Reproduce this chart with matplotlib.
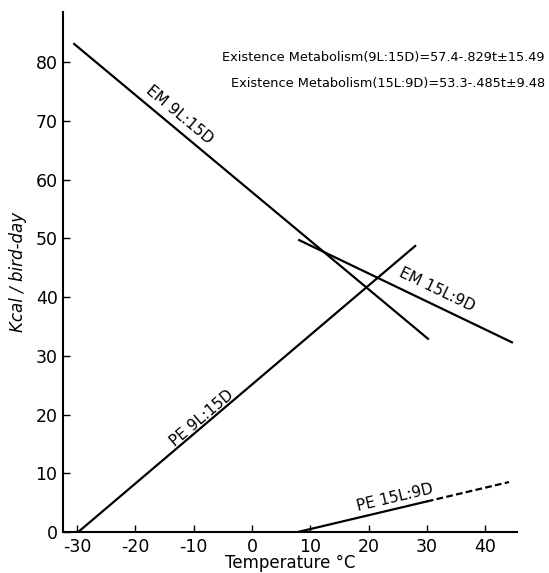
import matplotlib
matplotlib.use("Agg")
import matplotlib.pyplot as plt
import numpy as np

plt.rcParams['font.family'] = ['DejaVu Sans']
plt.rcParams['axes.unicode_minus'] = False

# Data (temperature °C, kcal/bird-day)
em_9l_x = [-30.5, 30.2]
em_9l_y = [83.1, 32.9]
em_15l_x = [8.1, 44.6]
em_15l_y = [49.7, 32.3]
pe_9l_x = [-29.8, 28.0]
pe_9l_y = [0.0, 48.7]
pe_15l_solid_x = [7.9, 30.0]
pe_15l_solid_y = [0.0, 5.2]
pe_15l_dash_x = [30.0, 44.1]
pe_15l_dash_y = [5.2, 8.5]

x_ticks = [-30, -20, -10, 0, 10, 20, 30, 40]
y_ticks = [0, 10, 20, 30, 40, 50, 60, 70, 80]

labels = [
    ("EM 9L:15D", em_9l_x, em_9l_y, -12.5, 71.0),
    ("EM 15L:9D", em_15l_x, em_15l_y, 31.7, 41.2),
    ("PE 9L:15D", pe_9l_x, pe_9l_y, -8.6, 19.3),
    ("PE 15L:9D", pe_15l_solid_x + pe_15l_dash_x[1:], pe_15l_solid_y + pe_15l_dash_y[1:], 24.5, 5.8),
]

eq1 = "Existence Metabolism(9L:15D)=57.4-.829t\u00b115.49"
eq2 = "Existence Metabolism(15L:9D)=53.3-.485t\u00b19.48"

fig = plt.figure(figsize=(5.49, 5.73), dpi=100)
ax = fig.add_axes([0.115, 0.0716, 0.827, 0.907])

lw = 1.6
ax.plot(em_9l_x, em_9l_y, color='black', lw=lw)
ax.plot(em_15l_x, em_15l_y, color='black', lw=lw)
ax.plot(pe_9l_x, pe_9l_y, color='black', lw=lw)
ax.plot(pe_15l_solid_x, pe_15l_solid_y, color='black', lw=lw)
ax.plot(pe_15l_dash_x, pe_15l_dash_y, color='black', lw=lw, ls=(0, (3, 1.5)))

ax.set_xlim(-32.4, 45.5)
ax.set_ylim(0, 88.5)
ax.set_xticks(x_ticks)
ax.set_yticks(y_ticks)
ax.tick_params(direction='in', length=5, width=1, labelsize=12.5, pad=4, colors='black')
for s in ['top', 'right']:
    ax.spines[s].set_visible(False)
for s in ['left', 'bottom']:
    ax.spines[s].set_linewidth(1.5)

ax.set_xlabel("Temperature \u00b0C", fontsize=12, labelpad=-1)
ax.set_ylabel("Kcal / bird-day", fontsize=12, style='italic', labelpad=6)

fig.canvas.draw()
for text, lx, ly, tx, ty in labels:
    p0 = ax.transData.transform((lx[0], ly[0]))
    p1 = ax.transData.transform((lx[-1], ly[-1]))
    ang = np.degrees(np.arctan2(p1[1] - p0[1], p1[0] - p0[0]))
    ax.text(tx, ty, text, rotation=ang, ha='center', va='center',
            rotation_mode='anchor', fontsize=11)

fig.text(545 / 549, 1 - 57 / 573, eq1, ha='right', va='center', fontsize=9.3)
fig.text(545 / 549, 1 - 84 / 573, eq2, ha='right', va='center', fontsize=9.3)

fig.savefig("out.png", dpi=100)
